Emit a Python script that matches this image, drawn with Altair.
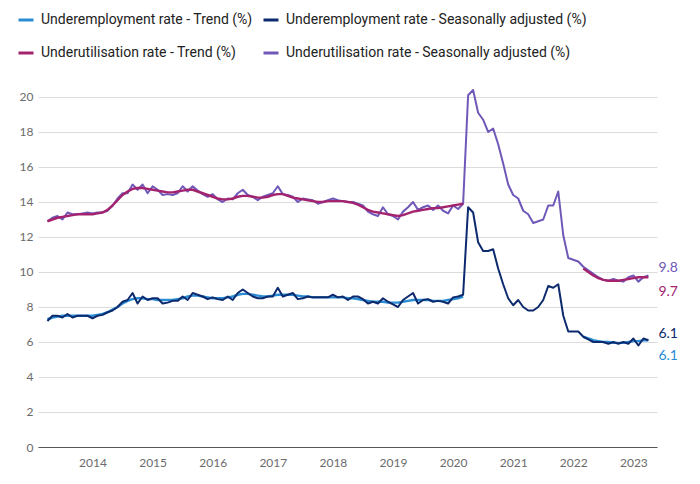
import altair as alt
import pandas as pd

# ---------------- data (monthly, Apr 2013 - Apr 2023) ----------------
start_year, start_month = 2013, 4

underemp_sa = (
    [7.2, 7.5, 7.5, 7.4, 7.6, 7.4, 7.5, 7.5, 7.5]
    + [7.35, 7.5, 7.55, 7.7, 7.8, 8.0, 8.3, 8.4, 8.8, 8.2, 8.6, 8.4]
    + [8.5, 8.5, 8.2, 8.25, 8.35, 8.35, 8.6, 8.4, 8.8, 8.7, 8.6, 8.45]
    + [8.55, 8.45, 8.4, 8.6, 8.4, 8.8, 9.0, 8.8, 8.6, 8.5, 8.5, 8.6]
    + [8.6, 9.1, 8.6, 8.7, 8.8, 8.45, 8.5, 8.6, 8.55, 8.55, 8.55, 8.55]
    + [8.7, 8.55, 8.6, 8.4, 8.6, 8.6, 8.45, 8.2, 8.3, 8.2, 8.5, 8.3]
    + [8.15, 8.0, 8.4, 8.6, 8.8, 8.2, 8.4, 8.45, 8.3, 8.35, 8.3, 8.2]
    + [8.55, 8.6, 8.7, 13.7, 13.4, 11.7, 11.2, 11.2, 11.3, 10.2, 9.3, 8.5]
    + [8.1, 8.4, 8.0, 7.8, 7.8, 8.0, 8.4, 9.2, 9.1, 9.3, 7.5, 6.6]
    + [6.6, 6.6, 6.3, 6.15, 6.0, 6.0, 6.0, 5.9, 6.0, 5.9, 6.0, 5.9]
    + [6.2, 5.8, 6.2, 6.1]
)

underemp_trend = (
    [7.3, 7.4, 7.45, 7.5, 7.5, 7.5, 7.5, 7.5, 7.5]
    + [7.5, 7.55, 7.6, 7.7, 7.85, 8.0, 8.2, 8.35, 8.45, 8.5, 8.5, 8.45]
    + [8.45, 8.4, 8.4, 8.4, 8.4, 8.45, 8.5, 8.6, 8.65, 8.65, 8.6, 8.55]
    + [8.5, 8.5, 8.5, 8.55, 8.6, 8.7, 8.75, 8.75, 8.7, 8.65, 8.6, 8.6]
    + [8.65, 8.7, 8.7, 8.7, 8.7, 8.65, 8.6, 8.6, 8.55, 8.55, 8.55, 8.55]
    + [8.55, 8.55, 8.55, 8.5, 8.5, 8.45, 8.4, 8.35, 8.3, 8.3, 8.3, 8.25]
    + [8.25, 8.25, 8.3, 8.35, 8.4, 8.4, 8.4, 8.4, 8.35, 8.35, 8.35, 8.4]
    + [8.45, 8.5, 8.6] + [None] * 9
    + [None] * 12
    + [None, None, 6.3, 6.2, 6.1, 6.05, 6.0, 6.0, 5.95, 5.95, 5.95, 6.0]
    + [6.05, 6.05, 6.1, 6.1]
)

underutil_sa = (
    [12.9, 13.1, 13.2, 13.0, 13.4, 13.3, 13.3, 13.35, 13.4]
    + [13.35, 13.4, 13.4, 13.5, 13.8, 14.2, 14.5, 14.5, 15.0, 14.7, 15.0, 14.5]
    + [14.9, 14.7, 14.4, 14.45, 14.4, 14.5, 14.9, 14.6, 14.9, 14.65, 14.45, 14.3]
    + [14.45, 14.15, 14.0, 14.2, 14.15, 14.5, 14.7, 14.4, 14.3, 14.1, 14.3, 14.4]
    + [14.5, 14.9, 14.45, 14.4, 14.3, 14.0, 14.2, 14.15, 14.1, 13.9, 14.0, 14.1]
    + [14.2, 14.1, 14.05, 14.0, 14.0, 13.9, 13.8, 13.45, 13.3, 13.2, 13.7, 13.3]
    + [13.2, 13.0, 13.45, 13.7, 14.0, 13.55, 13.7, 13.8, 13.55, 13.8, 13.5, 13.35]
    + [13.8, 13.6, 13.9, 20.1, 20.4, 19.1, 18.7, 18.0, 18.2, 17.3, 16.2, 15.0]
    + [14.4, 14.2, 13.5, 13.3, 12.8, 12.9, 13.0, 13.8, 13.8, 14.6, 12.1, 10.8]
    + [10.7, 10.6, 10.3, 10.1, 9.9, 9.7, 9.55, 9.5, 9.6, 9.5, 9.45, 9.7]
    + [9.8, 9.45, 9.7, 9.8]
)

underutil_trend = (
    [12.9, 13.0, 13.1, 13.15, 13.2, 13.25, 13.3, 13.3, 13.3]
    + [13.3, 13.35, 13.4, 13.55, 13.8, 14.1, 14.4, 14.6, 14.75, 14.8, 14.8, 14.75]
    + [14.7, 14.65, 14.6, 14.55, 14.55, 14.6, 14.65, 14.7, 14.7, 14.6, 14.5, 14.4]
    + [14.3, 14.2, 14.15, 14.15, 14.2, 14.3, 14.35, 14.35, 14.3, 14.25, 14.25, 14.3]
    + [14.4, 14.45, 14.45, 14.35, 14.25, 14.2, 14.15, 14.1, 14.05, 14.0, 14.0, 14.05]
    + [14.05, 14.05, 14.05, 14.0, 13.95, 13.85, 13.7, 13.55, 13.45, 13.4, 13.35, 13.3]
    + [13.25, 13.2, 13.25, 13.35, 13.45, 13.5, 13.55, 13.6, 13.65, 13.65, 13.7, 13.75]
    + [13.8, 13.85, 13.9] + [None] * 9
    + [None] * 12
    + [None, None, 10.2, 10.0, 9.8, 9.65, 9.55, 9.5, 9.5, 9.5, 9.55, 9.6]
    + [9.65, 9.7, 9.7, 9.7]
)

series_names = [
    "Underemployment rate - Trend (%)",
    "Underemployment rate - Seasonally adjusted (%)",
    "Underutilisation rate - Trend (%)",
    "Underutilisation rate - Seasonally adjusted (%)",
]
series_values = [underemp_trend, underemp_sa, underutil_trend, underutil_sa]
series_colors = ["#2a8dd4", "#0d2a6e", "#a3236f", "#7058b8"]
year_ticks = list(range(2014, 2024))
y_ticks = list(range(0, 21, 2))

# ---------------- build long table ----------------
rows = []
for name, vals in zip(series_names, series_values):
    seg = 0
    prev_missing = False
    for i, v in enumerate(vals):
        if v is None:
            prev_missing = True
            continue
        if prev_missing:
            seg += 1
            prev_missing = False
        t = start_year + (start_month - 1 + i) / 12.0
        rows.append({"series": name, "t": t, "value": v, "seg": seg})
df = pd.DataFrame(rows)

color = alt.Color(
    "series:N",
    scale=alt.Scale(domain=series_names, range=series_colors),
    sort=series_names,
    legend=alt.Legend(
        title=None,
        orient="none",
        direction="horizontal",
        legendX=-21,
        legendY=0,
        columns=2,
        gridAlign="none",
        symbolType="stroke",
        symbolStrokeWidth=3,
        symbolSize=225,
        labelFont="Roboto",
        labelFontSize=14,
        labelColor="#222222",
        labelOffset=6,
        labelLimit=400,
        rowPadding=17,
        columnPadding=4,
    ),
)

x = alt.X(
    "t:Q",
    scale=alt.Scale(domain=[2013.093, 2023.393], nice=False, zero=False),
    axis=alt.Axis(
        title=None,
        values=year_ticks,
        format="d",
        grid=False,
        ticks=False,
        labelPadding=10,
        labelFont="Lato",
        labelFontSize=12,
        labelColor="#6b6b6b",
        domainColor="#555555",
        domainWidth=1.2,
    ),
)
y = alt.Y(
    "value:Q",
    scale=alt.Scale(domain=[0, 24.914], nice=False, zero=True),
    axis=alt.Axis(
        title=None,
        values=y_ticks,
        grid=True,
        gridColor="#dcdcdc",
        gridWidth=1,
        domain=False,
        ticks=False,
        labelPadding=5,
        labelFont="Lato",
        labelFontSize=12,
        labelColor="#6b6b6b",
    ),
)

draw_order = [0, 1, 3, 2]
stroke_w = {0: 2.4, 1: 2.0, 2: 2.4, 3: 2.0}
layers = []
for k in draw_order:
    name = series_names[k]
    layers.append(
        alt.Chart(df)
        .transform_filter(alt.datum.series == name)
        .mark_line(strokeWidth=stroke_w[k], strokeJoin="round")
        .encode(x=x, y=y, color=color, detail="seg:N", order="t:Q")
    )

# end labels
label_dy = {0: 16, 1: -6, 2: 15, 3: -7.5}
last_rows = df.sort_values("t").groupby("series").tail(1)
for k, name in enumerate(series_names):
    layers.append(
        alt.Chart(last_rows[last_rows["series"] == name])
        .mark_text(
            align="left",
            baseline="middle",
            dx=10,
            dy=label_dy[k],
            font="Lato",
            fontSize=14,
            color=series_colors[k],
        )
        .encode(x=x, y=y, text=alt.Text("value:Q", format=".1f"))
    )

chart = (
    alt.layer(*layers)
    .properties(
        width=619,
        height=436,
        padding={"left": 9, "top": 3, "right": 5, "bottom": 5},
        background="white",
    )
    .configure_view(stroke=None)
)

chart.save("out.html", embed_options={"renderer": "svg", "actions": False})
